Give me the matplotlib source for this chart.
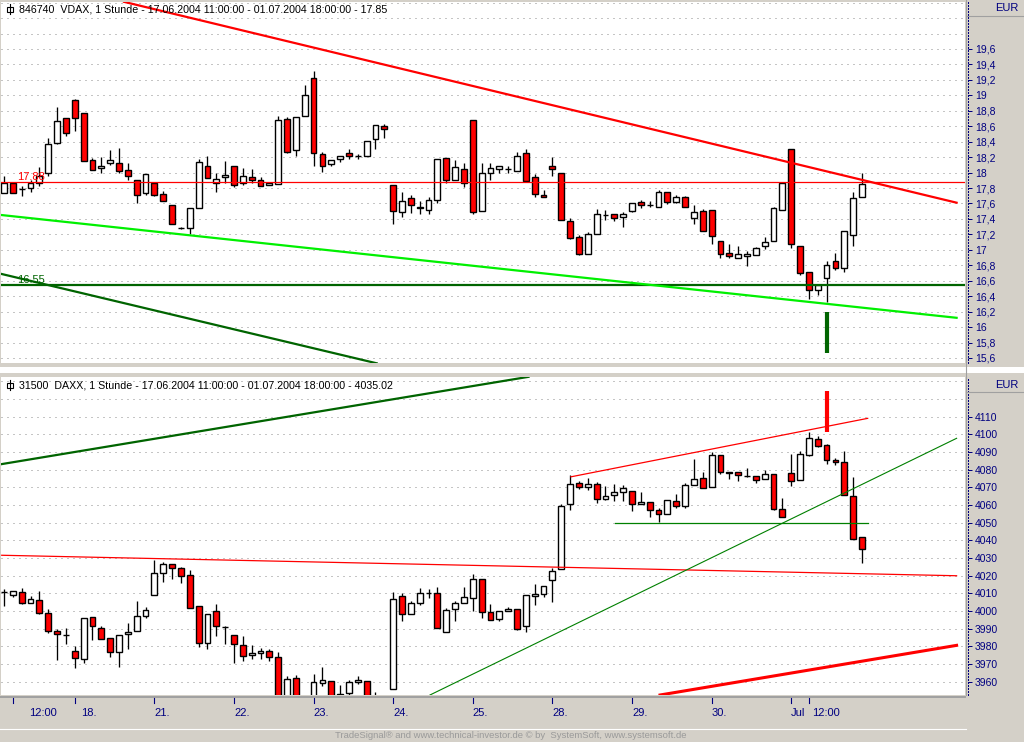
import numpy as np
import matplotlib
matplotlib.use("Agg")
import matplotlib.pyplot as plt
from matplotlib.patches import Rectangle
from matplotlib.lines import Line2D
import matplotlib.transforms as mtransforms

plt.rcParams['font.family'] = ['Liberation Sans', 'DejaVu Sans']

# ---- VDAX, hourly bars from 17.06.2004 11:00 to 01.07.2004 18:00 ----
vdax_open = [17.74, 17.86, 17.79, 17.80, 17.87, 18.00, 18.38, 18.70, 18.94, 18.77,
             18.16, 18.06, 18.12, 18.13, 18.03, 17.91, 17.73, 17.87, 17.72, 17.58,
             17.28, 17.28, 17.54, 18.09, 17.87, 17.94, 18.08, 17.87, 17.94, 17.90,
             17.84, 17.85, 18.69, 18.29, 18.73, 19.23, 18.24, 18.11, 18.17, 18.25,
             18.21, 18.21, 18.43, 18.60, 17.84, 17.49, 17.67, 17.56, 17.52, 17.65,
             18.19, 17.91, 18.04, 18.68, 17.50, 17.99, 18.04, 18.04, 18.02, 18.25,
             17.94, 17.71, 18.08, 18.00, 17.37, 17.16, 16.95, 17.20, 17.45, 17.46,
             17.43, 17.50, 17.62, 17.58, 17.56, 17.75, 17.62, 17.69, 17.41, 17.50,
             17.51, 17.11, 16.96, 16.90, 16.92, 16.93, 17.05, 17.11, 17.51, 18.31,
             17.05, 16.71, 16.48, 16.64, 16.85, 16.77, 17.19, 17.69]
vdax_high = [17.96, 17.87, 17.83, 17.91, 18.07, 18.45, 18.85, 18.71, 18.95, 18.77,
             18.19, 18.20, 18.29, 18.32, 18.13, 17.91, 17.98, 17.87, 17.76, 17.58,
             17.30, 17.54, 18.17, 18.22, 18.00, 18.15, 18.09, 18.06, 18.05, 17.94,
             17.87, 18.73, 18.72, 18.72, 19.13, 19.32, 18.27, 18.16, 18.21, 18.30,
             18.24, 18.41, 18.61, 18.63, 17.84, 17.75, 17.71, 17.63, 17.69, 18.17,
             18.19, 18.16, 18.12, 18.68, 18.12, 18.12, 18.08, 18.08, 18.26, 18.30,
             17.98, 17.77, 18.20, 18.00, 17.41, 17.19, 17.23, 17.53, 17.51, 17.47,
             17.49, 17.60, 17.65, 17.63, 17.78, 17.75, 17.71, 17.70, 17.58, 17.53,
             17.51, 17.11, 17.07, 17.05, 16.99, 17.04, 17.16, 17.55, 17.87, 18.31,
             17.05, 16.71, 16.55, 16.86, 16.96, 17.24, 17.75, 17.99]
vdax_low = [17.73, 17.74, 17.70, 17.75, 17.83, 17.96, 18.37, 18.47, 18.54, 18.15,
            18.03, 18.00, 18.10, 18.00, 17.90, 17.60, 17.71, 17.70, 17.63, 17.34,
            17.27, 17.21, 17.54, 17.93, 17.75, 17.87, 17.81, 17.84, 17.86, 17.82,
            17.84, 17.85, 18.25, 18.21, 18.73, 18.09, 18.01, 18.08, 18.14, 18.17,
            18.17, 18.21, 18.31, 18.45, 17.34, 17.42, 17.48, 17.46, 17.47, 17.61,
            17.86, 17.90, 17.81, 17.47, 17.50, 17.90, 18.00, 18.00, 18.02, 17.89,
            17.68, 17.68, 17.96, 17.38, 17.14, 16.93, 16.94, 17.20, 17.39, 17.37,
            17.29, 17.49, 17.54, 17.56, 17.55, 17.59, 17.60, 17.55, 17.33, 17.24,
            17.08, 16.90, 16.90, 16.90, 16.79, 16.93, 17.01, 17.11, 17.51, 17.02,
            16.68, 16.36, 16.42, 16.32, 16.74, 16.71, 17.05, 17.69]
vdax_close = [17.87, 17.74, 17.79, 17.87, 17.96, 18.37, 18.67, 18.51, 18.70, 18.15,
              18.03, 18.08, 18.16, 18.02, 17.95, 17.71, 17.98, 17.71, 17.63, 17.34,
              17.28, 17.54, 18.14, 17.93, 17.92, 17.97, 17.84, 17.95, 17.91, 17.82,
              17.87, 18.68, 18.26, 18.72, 19.01, 18.25, 18.09, 18.16, 18.21, 18.21,
              18.21, 18.41, 18.61, 18.57, 17.50, 17.63, 17.58, 17.54, 17.64, 18.17,
              17.91, 18.07, 17.87, 17.49, 18.00, 18.06, 18.08, 18.04, 18.22, 17.89,
              17.72, 17.68, 18.04, 17.38, 17.15, 16.94, 17.20, 17.46, 17.45, 17.41,
              17.46, 17.60, 17.58, 17.58, 17.75, 17.62, 17.68, 17.55, 17.49, 17.24,
              17.18, 16.94, 16.92, 16.94, 16.94, 17.03, 17.10, 17.54, 17.87, 17.08,
              16.70, 16.48, 16.55, 16.81, 16.77, 17.24, 17.67, 17.85]

# ---- DAXX, same hourly bars ----
daxx_open = [4010.8, 4008.9, 4010.6, 4004.4, 4006.1, 3998.7, 3988.5, 3986.3, 3977.2, 3972.7,
             3996.5, 3990.2, 3984.6, 3976.7, 3986.8, 3988.5, 3997.0, 4008.9, 4021.4, 4026.5,
             4024.2, 4020.2, 4002.7, 3981.7, 3999.9, 3990.8, 3986.3, 3980.6, 3975.0, 3976.1,
             3977.2, 3973.8, 3948.0, 3961.9, 3950.0, 3948.0, 3959.1, 3960.2, 3953.3, 3953.8,
             3959.7, 3960.2, 3948.0, 3946.0, 3955.7, 4008.3, 3998.2, 4004.4, 4010.2, 4010.0,
             3988.0, 4001.0, 4004.4, 4007.2, 4018.0, 3999.3, 3995.3, 3999.8, 4001.0, 3991.3,
             4008.3, 4009.5, 4017.4, 4023.6, 4060.4, 4072.3, 4070.0, 4071.7, 4063.2, 4065.5,
             4067.2, 4067.8, 4060.4, 4061.5, 4057.0, 4054.7, 4062.1, 4059.3, 4071.1, 4075.1,
             4070.0, 4088.1, 4078.8, 4078.5, 4076.6, 4076.2, 4074.5, 4077.4, 4057.6, 4078.0,
             4074.0, 4088.2, 4097.2, 4093.8, 4085.3, 4084.2, 4064.9, 4041.7]
daxx_high = [4012.7, 4011.3, 4013.1, 4008.3, 4011.4, 4001.0, 3989.7, 3990.2, 3980.1, 3996.0,
             3996.5, 3991.4, 3984.6, 3986.3, 3993.1, 4005.7, 4002.1, 4028.9, 4027.6, 4026.5,
             4024.8, 4023.1, 4002.7, 3998.2, 4003.8, 3991.4, 3986.3, 3985.7, 3980.6, 3978.9,
             3978.4, 3976.7, 3963.1, 3963.6, 3951.0, 3964.2, 3968.2, 3960.2, 3958.0, 3960.8,
             3963.1, 3960.2, 3954.0, 3951.0, 4010.6, 4010.0, 4005.5, 4012.9, 4012.5, 4013.4,
             4001.6, 4005.5, 4013.4, 4020.8, 4018.0, 4003.8, 3999.8, 4002.1, 4001.0, 4008.9,
             4015.1, 4014.0, 4024.2, 4060.4, 4076.8, 4073.4, 4075.1, 4072.8, 4070.6, 4071.7,
             4071.1, 4067.8, 4067.2, 4061.5, 4058.1, 4062.7, 4066.1, 4072.3, 4085.9, 4078.5,
             4089.8, 4088.1, 4078.9, 4078.5, 4080.8, 4076.2, 4079.6, 4077.4, 4063.8, 4088.7,
             4090.4, 4101.2, 4098.9, 4094.4, 4086.4, 4090.4, 4076.1, 4041.7]
daxx_low = [4003.1, 4007.8, 4004.2, 4004.4, 3998.2, 3987.4, 3972.5, 3981.6, 3967.6, 3970.4,
            3983.4, 3984.0, 3974.2, 3968.5, 3978.4, 3988.5, 3995.9, 4008.9, 4016.3, 4018.0,
            4015.7, 4001.5, 3979.9, 3978.7, 3985.7, 3981.2, 3970.4, 3971.6, 3972.7, 3972.7,
            3971.6, 3940.0, 3944.0, 3944.0, 3940.0, 3944.0, 3957.4, 3944.0, 3942.0, 3951.0,
            3958.5, 3944.0, 3944.0, 3942.0, 3955.7, 3994.6, 3998.2, 4003.2, 4007.2, 3990.2,
            3988.0, 3994.2, 4004.4, 4000.2, 3995.9, 3994.7, 3994.2, 3999.8, 3989.1, 3988.0,
            4003.2, 4007.8, 4005.0, 4023.6, 4057.0, 4068.9, 4068.3, 4061.0, 4062.7, 4062.1,
            4062.1, 4056.4, 4060.4, 4053.0, 4050.2, 4054.7, 4058.1, 4058.1, 4071.1, 4069.4,
            4070.0, 4077.4, 4074.5, 4073.4, 4075.7, 4072.3, 4074.5, 4057.0, 4053.0, 4070.6,
            4074.0, 4087.6, 4092.7, 4083.0, 4082.5, 4065.5, 4040.6, 4027.0]
daxx_close = [4010.8, 4011.2, 4004.8, 4006.7, 3998.7, 3988.5, 3986.8, 3986.3, 3973.3, 3995.9,
              3991.4, 3984.0, 3976.7, 3986.3, 3988.0, 3997.0, 4000.4, 4021.4, 4026.5, 4024.2,
              4019.7, 4001.6, 3981.7, 3998.2, 3991.4, 3990.8, 3981.2, 3974.4, 3976.1, 3977.2,
              3973.8, 3945.0, 3961.4, 3947.0, 3945.0, 3959.7, 3960.8, 3946.0, 3945.0, 3959.7,
              3960.8, 3946.0, 3950.0, 3949.0, 4006.7, 3998.2, 4004.4, 4010.0, 4010.2, 3990.2,
              4000.4, 4004.4, 4007.8, 4018.0, 3999.3, 3994.7, 3999.8, 4001.0, 3989.7, 4008.9,
              4009.5, 4014.0, 4022.5, 4059.3, 4071.7, 4070.0, 4071.7, 4063.2, 4064.9, 4067.2,
              4069.4, 4060.4, 4061.5, 4057.0, 4054.7, 4062.7, 4059.3, 4071.1, 4074.5, 4069.4,
              4088.1, 4078.5, 4078.3, 4076.8, 4076.6, 4074.0, 4077.4, 4057.6, 4053.0, 4073.4,
              4088.7, 4097.8, 4093.2, 4085.3, 4084.2, 4065.5, 4040.6, 4035.02]

# x-axis: bar index of each day/time label
xtick_bars = [1, 8, 17, 26, 35, 44, 53, 62, 71, 80, 89, 91]
xtick_labels = ["12:00", "18.", "21.", "22.", "23.", "24.", "25.", "28.", "29.", "30.", "Jul", "12:00"]

# trend lines drawn by hand: (bar, price) pairs
vdax_resistance = ([13.57, 107.7], [20.21, 17.61])
vdax_support = ([-0.26, 107.7], [17.45, 16.12])
vdax_long_down = ([-0.26, 42.14], [16.687, 15.531])
vdax_last = 17.88
vdax_level = 16.55
vdax_signal = ([93, 93], [15.66, 16.19])

daxx_long_up = ([-0.26, 59.3], [4083.2, 4132.6])
daxx_flat = ([-0.26, 107.7], [4031.6, 4020.0])
daxx_channel_top = ([64.1, 97.65], [4076.0, 4109.1])
daxx_level = ([69.1, 97.65], [4050.0, 4050.0])
daxx_rising = ([48.16, 107.7], [3952.5, 4097.8])
daxx_low_line = ([74.17, 107.7], [3952.5, 3980.6])
daxx_signal = ([93, 93], [4101.5, 4124.5])

W, H = 1024, 742
GRAY = '#d4d0c8'
NAVY = '#000080'
RED = '#ff0000'
DKGREEN = '#006400'
LIME = '#00f000'

fig = plt.figure(figsize=(W / 100, H / 100), dpi=100, facecolor=GRAY)


def fx(x):
    return x / W


def fy(y):
    return 1 - y / H


def panel(y0, y1):
    ax = fig.add_axes([fx(1), fy(y1), fx(965) - fx(1), fy(y0) - fy(y1)])
    ax.set_facecolor('white')
    return ax


def fmt(v):
    s = f"{v:.1f}"
    if s.endswith('.0'):
        s = s[:-2]
    return s.replace('.', ',')


X_LEFT, X_RIGHT = -0.34, 108.65


def setup(ax, ylim, ticks, grid):
    ax.set_xlim(X_LEFT, X_RIGHT)
    ax.set_ylim(*ylim)
    for g in grid:
        ax.axhline(g, color='#8c8c8c', ls=(0, (1, 5)), lw=0.72, zorder=1)
    ax.yaxis.tick_right()
    ax.set_yticks(ticks)
    ax.set_yticklabels([fmt(t) for t in ticks])
    ax.tick_params(axis='y', direction='out', length=3, width=0.72, color=NAVY,
                   labelcolor=NAVY, labelsize=7.5, pad=2)
    ax.set_xticks([])
    for s in ['top', 'left', 'bottom']:
        ax.spines[s].set_visible(False)
    sp = ax.spines['right']
    sp.set_position(('outward', 2.2))
    sp.set_linestyle((0, (1, 2)))
    sp.set_color(NAVY)
    sp.set_linewidth(0.72)


def candles(ax, o, h, l, c, width=0.66):
    for i, (oo, hh, ll, cc) in enumerate(zip(o, h, l, c)):
        ax.plot([i, i], [ll, hh], color='black', lw=0.95, zorder=2, solid_capstyle='butt')
        lo, hi = min(oo, cc), max(oo, cc)
        face = RED if cc < oo else 'white'
        ax.add_patch(Rectangle((i - width / 2, lo), width, hi - lo, facecolor=face,
                               edgecolor='black', lw=1.0, zorder=3))


ax1 = panel(2, 363)
ax2 = panel(377, 695)

top_ticks = np.round(np.arange(15.6, 19.61, 0.2), 1)
top_grid = np.round(np.arange(15.6, 20.21, 0.2), 1)
bot_ticks = np.arange(3960, 4111, 10)
bot_grid = np.arange(3960, 4131, 10)

setup(ax1, (15.535, 20.208), top_ticks, top_grid)
setup(ax2, (3952.5, 4132.5), bot_ticks, bot_grid)

candles(ax1, vdax_open, vdax_high, vdax_low, vdax_close)
candles(ax2, daxx_open, daxx_high, daxx_low, daxx_close)

# VDAX drawings
ax1.axhline(vdax_last, color=RED, lw=0.9, zorder=4)
ax1.axhline(vdax_level, color=DKGREEN, lw=1.6, zorder=4)
ax1.plot(*vdax_resistance, color=RED, lw=1.6, zorder=4)
ax1.plot(*vdax_support, color=LIME, lw=1.6, zorder=4)
ax1.plot(*vdax_long_down, color=DKGREEN, lw=1.6, zorder=4)
ax1.plot(*vdax_signal, color=DKGREEN, lw=3.0, zorder=5, solid_capstyle='butt')
ax1.text(16 / 964, vdax_last, f"{vdax_last:.2f}", transform=ax1.get_yaxis_transform(),
         color=RED, fontsize=8, va='bottom', ha='left', zorder=6)
ax1.text(16 / 964, vdax_level, f"{vdax_level:.2f}", transform=ax1.get_yaxis_transform(),
         color=DKGREEN, fontsize=8, va='bottom', ha='left', zorder=6)

# DAXX drawings
ax2.plot(*daxx_long_up, color=DKGREEN, lw=1.6, zorder=4)
ax2.plot(*daxx_flat, color=RED, lw=0.9, zorder=4)
ax2.plot(*daxx_channel_top, color=RED, lw=0.9, zorder=4)
ax2.plot(*daxx_level, color='#008000', lw=0.9, zorder=4)
ax2.plot(*daxx_rising, color='#008000', lw=0.8, zorder=4)
ax2.plot(*daxx_low_line, color=RED, lw=2.2, zorder=4)
ax2.plot(*daxx_signal, color=RED, lw=3.0, zorder=5, solid_capstyle='butt')


# panel titles with small candle icon
def header(y, text):
    fig.add_artist(Rectangle((fx(6.5), fy(y + 2.5)), fx(6), fy(y - 2) - fy(y + 2.5),
                             transform=fig.transFigure, facecolor='white',
                             edgecolor='black', lw=0.8))
    fig.add_artist(Line2D([fx(9.5), fx(9.5)], [fy(y - 5), fy(y + 5)],
                          transform=fig.transFigure, color='black', lw=0.8))
    fig.text(fx(19), fy(y), text, fontsize=7.7, color='black', ha='left', va='center')


header(9, "846740  VDAX, 1 Stunde - 17.06.2004 11:00:00 - 01.07.2004 18:00:00 - 17.85")
header(385, "31500  DAXX, 1 Stunde - 17.06.2004 11:00:00 - 01.07.2004 18:00:00 - 4035.02")

# frame elements
fig.add_artist(Rectangle((0, fy(373)), 1, fy(367) - fy(373), transform=fig.transFigure,
                         facecolor='white', edgecolor='none'))
fig.add_artist(Line2D([fx(966), fx(966)], [fy(0), fy(695)], transform=fig.transFigure,
                      color='#a0a0a0', lw=0.8))
for yy in (16, 392):
    fig.add_artist(Line2D([fx(966), fx(1024)], [fy(yy), fy(yy)], transform=fig.transFigure,
                          color='#a0a0a0', lw=0.8))
fig.text(fx(1019), fy(8), "EUR", color=NAVY, fontsize=8, ha='right', va='center')
fig.text(fx(1019), fy(385), "EUR", color=NAVY, fontsize=8, ha='right', va='center')

fig.add_artist(Line2D([0, fx(965)], [fy(696.5), fy(696.5)], transform=fig.transFigure,
                      color='#a0a0a0', lw=1.4))
fig.add_artist(Line2D([0, fx(966)], [fy(729), fy(729)], transform=fig.transFigure,
                      color='white', lw=0.8))

# x-axis ticks and labels
xform = mtransforms.blended_transform_factory(ax2.transData, fig.transFigure)
label_offsets_px = [16, 6, 0, 0, 0, 0, 0, 0, 0, 0, 0, 3]
for b, lab, off in zip(xtick_bars, xtick_labels, label_offsets_px):
    fig.add_artist(Line2D([b, b], [fy(698), fy(703)], transform=xform, color=NAVY, lw=0.8))
    tr = xform + mtransforms.ScaledTranslation(off / 100, 0, fig.dpi_scale_trans)
    fig.text(b, fy(713), lab, transform=tr, color=NAVY, fontsize=8, ha='left', va='center')

fig.text(fx(511), fy(736), "TradeSignal\u00ae and www.technical-investor.de \u00a9 by  SystemSoft, www.systemsoft.de",
         color='#9a9a9a', fontsize=6.8, ha='center', va='center')

fig.savefig("out.png", dpi=100, facecolor=GRAY)
